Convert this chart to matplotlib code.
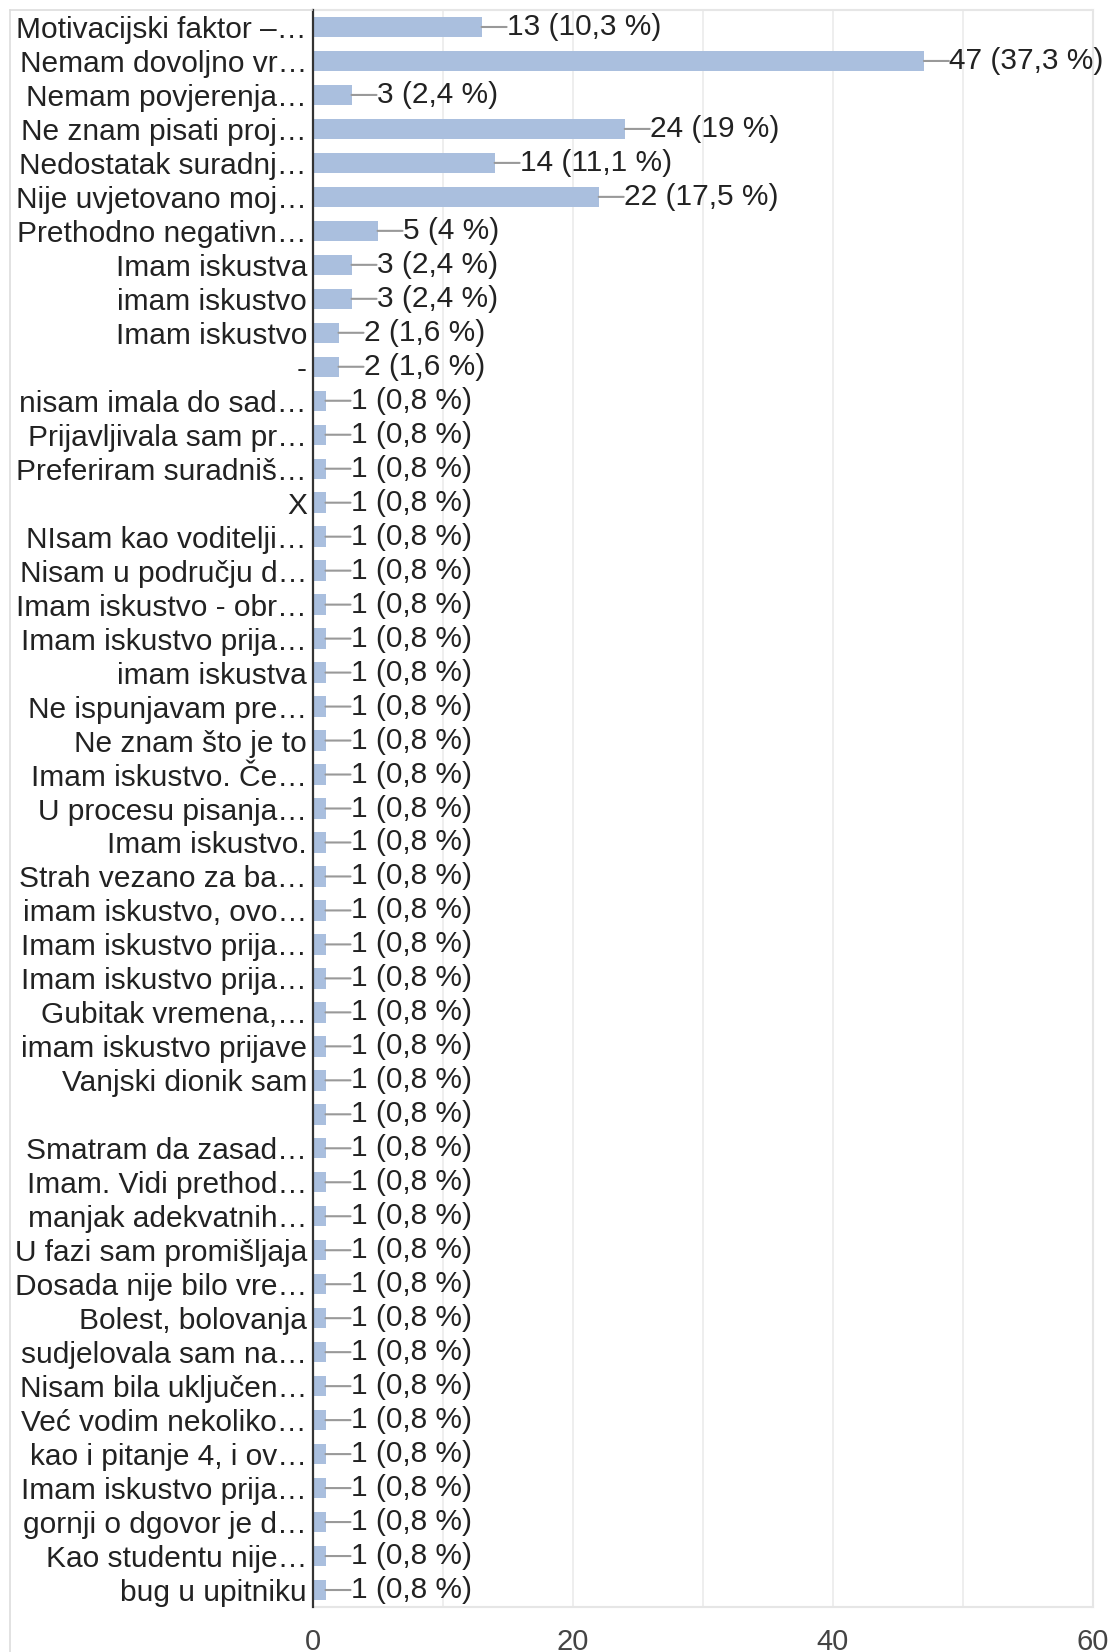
import numpy as np
import matplotlib.pyplot as plt
from matplotlib.lines import Line2D

plt.rcParams['font.family'] = ['Liberation Sans', 'DejaVu Sans']

labels = [
    "Motivacijski faktor –…", "Nemam dovoljno vr…", "Nemam povjerenja…",
    "Ne znam pisati proj…", "Nedostatak suradnj…", "Nije uvjetovano moj…",
    "Prethodno negativn…", "Imam iskustva", "imam iskustvo", "Imam iskustvo",
    "-", "nisam imala do sad…", "Prijavljivala sam pr…", "Preferiram suradniš…",
    "X", "NIsam kao voditelji…", "Nisam u području d…", "Imam iskustvo - obr…",
    "Imam iskustvo prija…", "imam iskustva", "Ne ispunjavam pre…",
    "Ne znam što je to", "Imam iskustvo. Če…", "U procesu pisanja…",
    "Imam iskustvo.", "Strah vezano za ba…", "imam iskustvo, ovo…",
    "Imam iskustvo prija…", "Imam iskustvo prija…", "Gubitak vremena,…",
    "imam iskustvo prijave", "Vanjski dionik sam", "", "Smatram da zasad…",
    "Imam. Vidi prethod…", "manjak adekvatnih…", "U fazi sam promišljaja",
    "Dosada nije bilo vre…", "Bolest, bolovanja", "sudjelovala sam na…",
    "Nisam bila uključen…", "Već vodim nekoliko…", "kao i pitanje 4, i ov…",
    "Imam iskustvo prija…", "gornji o dgovor je d…", "Kao studentu nije…",
    "bug u upitniku",
]
counts = [13, 47, 3, 24, 14, 22, 5, 3, 3, 2, 2] + [1] * 36
respondents = 126
xticks = [0, 20, 40, 60]

W, H = 1111, 1652
fig = plt.figure(figsize=(W / 100, H / 100), dpi=100)
# plot area: x 312.5..1093 px, y 10..1607 px from the top
ax = fig.add_axes([312.5 / W, (H - 1607) / H, (1093 - 312.5) / W, (1607 - 10) / H])

y = np.arange(len(labels))
ax.barh(y, counts, height=0.6, color="#aabfde", zorder=2)

for yi, c in zip(y, counts):
    pct = f"{100 * c / respondents:.1f}".replace(".", ",")
    if pct.endswith(",0"):
        pct = pct[:-2]
    ax.annotate(f"{c} ({pct} %)", xy=(c, yi), xytext=(18, 0),
                textcoords="offset points", ha="left", va="center",
                fontsize=21.5, color="#222222",
                bbox=dict(boxstyle="square,pad=0", fc="none", ec="none"),
                arrowprops=dict(arrowstyle="-", color="#999999", lw=1.5,
                                shrinkA=0, shrinkB=0))

ax.set_yticks(y)
ax.set_yticklabels(labels, fontsize=21.5, color="#222222")
ax.set_ylim(len(labels) - 0.5, -0.5)

ax.set_xlim(0, 60)
ax.set_xticks(xticks)
ax.set_xticks([10, 30, 50], minor=True)
ax.tick_params(axis="x", which="both", length=0, pad=15, labelsize=21, labelcolor="#444444")
ax.tick_params(axis="y", length=0, pad=4)
ax.grid(axis="x", which="both", color="#ebebeb", lw=1.2, zorder=0)
ax.set_axisbelow(True)

for s in ["top", "right", "bottom"]:
    ax.spines[s].set_color("#e6e6e6")
    ax.spines[s].set_linewidth(1.5)
ax.spines["left"].set_color("#333333")
ax.spines["left"].set_linewidth(1.6)
ax.spines["left"].set_zorder(3)

# outer chart frame
fig.add_artist(Line2D([10 / W, 10 / W], [0, 1 - 10 / H], color="#dddddd", lw=1.2))
fig.add_artist(Line2D([10 / W, 312 / W], [1 - 10 / H, 1 - 10 / H], color="#dddddd", lw=1.2))

fig.savefig("out.png", dpi=100)
